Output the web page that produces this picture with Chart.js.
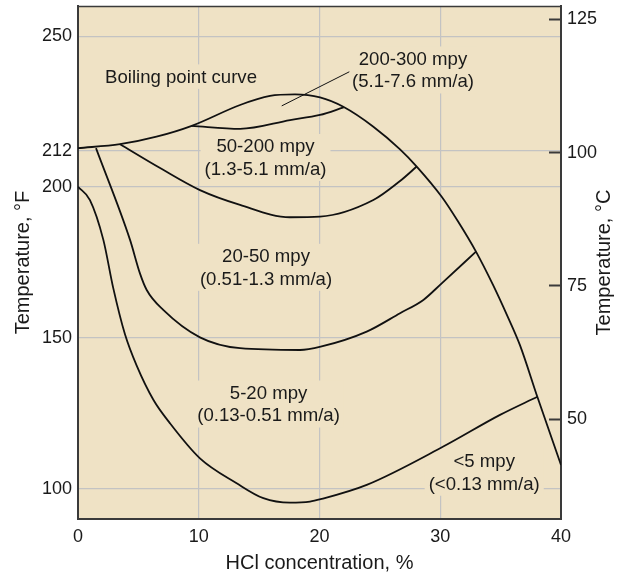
<!DOCTYPE html>
<html>
<head>
<meta charset="utf-8">
<script src="https://cdn.jsdelivr.net/npm/chart.js@4.4.1/dist/chart.umd.min.js"></script>
<style>
  html, body { margin: 0; padding: 0; background: #ffffff; }
  #wrap { width: 620px; height: 575px; }
</style>
</head>
<body>
<div id="wrap"><canvas id="c" width="620" height="575"></canvas></div>
<script>
// ---- Data (x = HCl concentration %, y = temperature °F) ----
const X_TICKS = [0, 10, 20, 30, 40];
const F_TICKS = [100, 150, 200, 212, 250];
const C_TICKS = [50, 75, 100, 125];

const boilingX = [0, 3.48, 6.5, 9.42, 13.42, 15.9, 17.97, 20.04, 21.97, 24.46, 26.67, 28.05, 30.12, 31.49, 32.96, 34.39, 35.5, 36.6, 38.04, 40];
const boilingY = [212.9, 214.2, 216.7, 220.3, 227.2, 230.2, 230.7, 229.7, 226.6, 220.0, 212.5, 206.8, 196.8, 188.5, 178.6, 167.4, 157.8, 147.6, 130.5, 107.9];

const r200_300X = [9.42, 13.42, 17.56, 20.04, 22.0];
const r200_300Y = [220.3, 219.3, 222.2, 223.9, 226.4];

const r50_200X = [3.48, 6.8, 10.1, 13.42, 17.56, 20.04, 24.46, 26.67, 28.05];
const r50_200Y = [214.2, 206.3, 199.0, 194.1, 190.0, 190.2, 195.7, 202.0, 206.8];

const r20_50X = [1.49, 4.31, 5.13, 5.69, 7.06, 10.1, 13.42, 18.38, 20.1, 23.91, 26.67, 28.6, 30.12, 32.96];
const r20_50Y = [212.9, 182.5, 171.4, 165.9, 159.3, 150.2, 146.6, 146.0, 147.1, 152.1, 158.2, 162.6, 168.1, 178.6];

const r5_20X = [0, 0.99, 2.1, 2.92, 3.89, 4.86, 6.24, 7.62, 10.1, 13.14, 15.35, 17.56, 19.21, 20.1, 23.91, 30.25, 34.95, 38.04];
const r5_20Y = [200.1, 195.7, 182.5, 166.5, 151.2, 140.8, 129.5, 121.7, 110.1, 101.85, 96.9, 95.4, 95.75, 96.55, 101.3, 114.0, 124.5, 130.5];

const leaderX = [16.87, 22.47];
const leaderY = [226.9, 238.2];

// Region labels (text + anchor in data coordinates)
const labelTexts = [
  ['Boiling point curve'],
  ['200-300 mpy', '(5.1-7.6 mm/a)'],
  ['50-200 mpy', '(1.3-5.1 mm/a)'],
  ['20-50 mpy', '(0.51-1.3 mm/a)'],
  ['5-20 mpy', '(0.13-0.51 mm/a)'],
  ['<5 mpy', '(<0.13 mm/a)']
];
const labelX = [8.53, 27.74, 15.53, 15.57, 15.78, 33.64];
const labelY = [236.6, 238.8, 209.8, 173.4, 128.1, 105.5];

// ---- Styling ----
const FONT = "'Liberation Sans', Arial, Helvetica, sans-serif";
const BG = '#efe2c5';
const GRID = '#c3c3c3';
const AXIS = '#3a3a3a';
const TXT = '#1a1a1a';

function pts(xs, ys) { return xs.map((x, i) => ({ x: x, y: ys[i] })); }
function curve(xs, ys) {
  return {
    data: pts(xs, ys),
    borderColor: '#111111',
    borderWidth: 1.8,
    pointRadius: 0,
    fill: false,
    cubicInterpolationMode: 'monotone',
    yAxisID: 'y'
  };
}
function noPad(s) { s.paddingTop = 0; s.paddingBottom = 0; s.paddingLeft = 0; s.paddingRight = 0; }

const bgPlugin = {
  id: 'bg',
  beforeDraw(chart) {
    const { ctx, chartArea: a } = chart;
    ctx.save();
    ctx.fillStyle = BG;
    ctx.fillRect(a.left, a.top, a.right - a.left, a.bottom - a.top);
    ctx.restore();
  }
};

const labelPlugin = {
  id: 'regionLabels',
  beforeDatasetsDraw(chart) {
    const { ctx, scales } = chart;
    ctx.save();
    ctx.font = '18.6px ' + FONT;
    ctx.textAlign = 'center';
    ctx.textBaseline = 'middle';
    const LH = 22.5;
    labelTexts.forEach((lines, i) => {
      const cx = scales.x.getPixelForValue(labelX[i]);
      const cy = scales.y.getPixelForValue(labelY[i]);
      const w = Math.max(...lines.map(t => ctx.measureText(t).width));
      const h = lines.length * LH;
      ctx.fillStyle = BG;
      ctx.fillRect(cx - w / 2 - 4, cy - h / 2 - 1, w + 8, h + 2);
      ctx.fillStyle = TXT;
      lines.forEach((t, j) => {
        ctx.fillText(t, cx, cy - h / 2 + LH / 2 + j * LH + 1);
      });
    });
    ctx.restore();
  }
};

const framePlugin = {
  id: 'frame',
  afterDraw(chart) {
    const { ctx, chartArea: a } = chart;
    ctx.save();
    ctx.strokeStyle = AXIS;
    ctx.lineWidth = 1.5;
    ctx.beginPath();
    ctx.moveTo(a.left, a.top + 0.5);
    ctx.lineTo(a.right, a.top + 0.5);
    ctx.stroke();
    // right axis title (reads bottom-to-top)
    ctx.fillStyle = TXT;
    ctx.font = '20px ' + FONT;
    ctx.textAlign = 'center';
    ctx.textBaseline = 'middle';
    ctx.translate(604, (a.top + a.bottom) / 2);
    ctx.rotate(-Math.PI / 2);
    ctx.fillText('Temperature, °C', 0, 0);
    ctx.restore();
  }
};

const leader = {
  data: pts(leaderX, leaderY),
  borderColor: '#111111',
  borderWidth: 1,
  pointRadius: 0,
  tension: 0,
  fill: false,
  yAxisID: 'y'
};

new Chart(document.getElementById('c'), {
  type: 'line',
  data: {
    datasets: [
      curve(boilingX, boilingY),
      curve(r200_300X, r200_300Y),
      curve(r50_200X, r50_200Y),
      curve(r20_50X, r20_50Y),
      curve(r5_20X, r5_20Y),
      leader
    ]
  },
  options: {
    responsive: false,
    devicePixelRatio: 1,
    animation: false,
    layout: { autoPadding: false, padding: { top: 6, left: 0, right: 0, bottom: 0 } },
    plugins: { legend: { display: false }, tooltip: { enabled: false } },
    scales: {
      x: {
        type: 'linear',
        position: 'bottom',
        min: 0, max: 40,
        afterBuildTicks: s => { s.ticks = X_TICKS.map(v => ({ value: v })); },
        ticks: { font: { size: 18, family: FONT }, color: TXT, padding: 7, autoSkip: false, maxRotation: 0 },
        grid: {
          color: c => (c.tick && (c.tick.value === 0 || c.tick.value === 40)) ? 'rgba(0,0,0,0)' : GRID,
          lineWidth: 1.2,
          drawTicks: false
        },
        border: { color: AXIS, width: 2 },
        title: { display: true, text: 'HCl concentration, %', font: { size: 20, family: FONT }, color: TXT, padding: { top: 0, bottom: 0 } },
        afterFit: s => { s.height = 56; noPad(s); }
      },
      y: {
        type: 'linear',
        position: 'left',
        min: 90, max: 260,
        afterBuildTicks: s => { s.ticks = F_TICKS.map(v => ({ value: v })); },
        ticks: { font: { size: 18, family: FONT }, color: TXT, padding: 6, autoSkip: false },
        grid: { color: GRID, lineWidth: 1.2, drawTicks: false },
        border: { color: AXIS, width: 2 },
        title: { display: true, text: 'Temperature, °F', font: { size: 20, family: FONT }, color: TXT, padding: { top: 11, bottom: 0 } },
        afterFit: s => { s.width = 78; noPad(s); }
      },
      y2: {
        type: 'linear',
        position: 'right',
        min: 31.3, max: 127.5,
        afterBuildTicks: s => { s.ticks = C_TICKS.map(v => ({ value: v })); },
        ticks: { font: { size: 18, family: FONT }, color: TXT, padding: 18, autoSkip: false },
        grid: { drawOnChartArea: false, drawTicks: true, tickLength: -12, tickColor: AXIS, tickWidth: 2 },
        border: { color: AXIS, width: 2 },
        title: { display: false },
        afterFit: s => { s.width = 59; noPad(s); }
      }
    }
  },
  plugins: [bgPlugin, labelPlugin, framePlugin]
});
</script>
</body>
</html>
